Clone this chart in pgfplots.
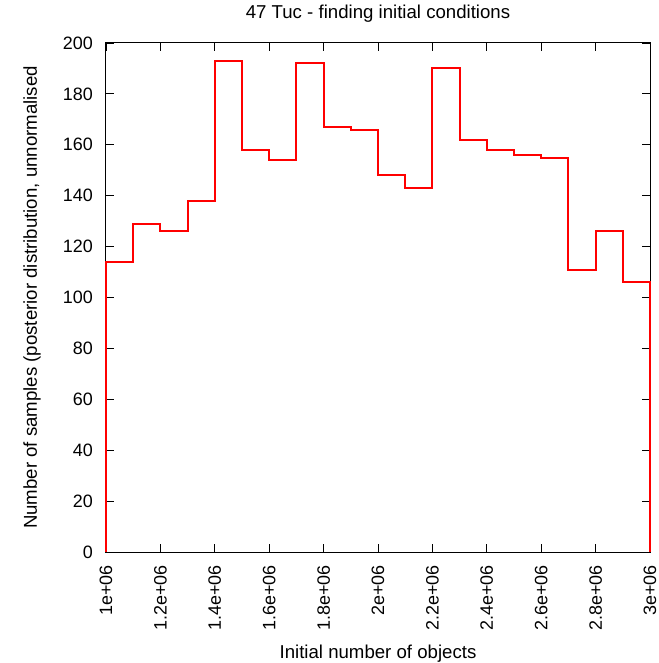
\documentclass[border=0pt]{standalone}
\usepackage{pgfplots}
\pgfplotsset{compat=1.18}
\usepackage{fontspec}
\setmainfont{Liberation Sans}
\begin{document}
\begin{tikzpicture}[x=1bp,y=1bp]
\begin{axis}[
  name=ax,
  scale only axis,
  width=544bp, height=509bp,
  xmin=1e6, xmax=3e6, ymin=0, ymax=200,
  xtick={1e6,1.2e6,1.4e6,1.6e6,1.8e6,2e6,2.2e6,2.4e6,2.6e6,2.8e6,3e6},
  xticklabels={1e+06,1.2e+06,1.4e+06,1.6e+06,1.8e+06,2e+06,2.2e+06,2.4e+06,2.6e+06,2.8e+06,3e+06},
  ytick={0,20,...,200},
  scaled x ticks=false,
  tick align=inside,
  major tick length=8bp,
  tick style={black, line width=0.8bp},
  axis line style={black, line width=1bp},
  /pgf/number format/assume math mode=true,
  ticklabel style={font=\fontsize{18}{21}\selectfont},
  xticklabel style={rotate=90, anchor=east, inner sep=0pt, xshift=-13bp},
  yticklabel style={inner sep=0pt, xshift=-13bp},
  xlabel={Initial number of objects},
  ylabel={Number of samples (posterior distribution, unnormalised},
  label style={font=\fontsize{18.7}{22}\selectfont},
  xlabel style={at={(0.5,0)}, anchor=base, yshift=-106bp},
  ylabel style={at={(0,0.5)}, anchor=base, yshift=69bp},
  title={47 Tuc - finding initial conditions},
  title style={font=\fontsize{18.7}{22}\selectfont, at={(0.5,1)}, anchor=base, yshift=19bp},
  clip=false,
]
\addplot[red, line width=2bp, const plot mark left, line join=miter] coordinates {
(1e6,0)
(1e6,114) (1.1e6,129) (1.2e6,126) (1.3e6,138) (1.4e6,193) (1.5e6,158)
(1.6e6,154) (1.7e6,192) (1.8e6,167) (1.9e6,166) (2.0e6,148) (2.1e6,143)
(2.2e6,190) (2.3e6,162) (2.4e6,158) (2.5e6,156) (2.6e6,155) (2.7e6,111)
(2.8e6,126) (2.9e6,106) (3e6,0) (3e6,0)
};
\end{axis}
\pgfresetboundingbox
\path[use as bounding box] (ax.south west) ++(-106bp,-111bp) rectangle ++(659bp,663bp);
\end{tikzpicture}
\end{document}
